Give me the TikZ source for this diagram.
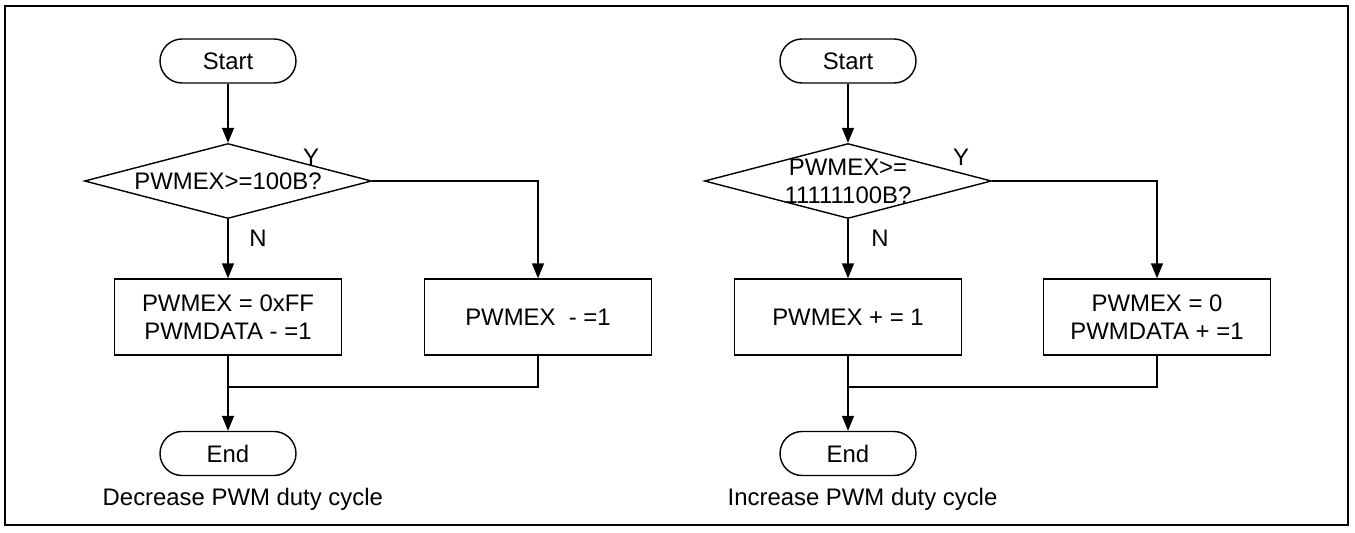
\documentclass[tikz,border=0pt]{standalone}
\usepackage{fontspec}
\setmainfont{Liberation Sans}
\usetikzlibrary{shapes.geometric}
\usetikzlibrary{arrows.meta}
\tikzset{%
    term/.style={shape=rectangle,draw,line width=0.8pt,rounded corners=0.44cm,minimum width=2.72cm,minimum height=0.88cm,inner sep=0pt},
    decision/.style={shape=diamond,draw,line width=0.8pt,minimum width=5.74cm,minimum height=1.5cm,inner sep=0pt},
    process/.style={shape=rectangle,draw,line width=0.8pt,minimum width=4.54cm,minimum height=1.52cm,inner sep=0pt,align=center},
    flow/.style={line width=0.8pt,-{Triangle[length=0.3cm,width=0.24cm]}},
    joint/.style={line width=0.8pt},
    every node/.style={font=\fontsize{13.6}{16}\selectfont},
}
\begin{document}
\begin{tikzpicture}
        \useasboundingbox (0,0) rectangle (27.1,10.64);
        \draw[line width=1.2pt] (0.1,0.14) rectangle (26.96,10.52);

        % decrease
        \node [term] (start1) at (4.56,9.42) {Start};
        \node [decision] (dec1) at (4.56,7.02) {};
        \node (dec1text) at (dec1) {PWMEX>=100B?};
        \node [process] (box1) at (4.56,4.30) {PWMEX = 0xFF\\PWMDATA - =1};
        \node [process] (box2) at (10.76,4.30) {PWMEX\ \ - =1};
        \node [term] (end1) at (4.56,1.57) {End};
        \node [anchor=west] (cap1) at (1.93,0.66) {Decrease PWM duty cycle};
        \node (yes1) at (6.22,7.5) {Y};
        \node (no1) at (5.16,5.88) {N};
        \coordinate (merge1) at (4.56,2.90);
        \draw [flow] (start1) -- (dec1);
        \draw [flow] (dec1) -- (box1);
        \draw [flow] (dec1.east) -| (box2.north);
        \draw [joint] (box2.south) |- (merge1);
        \draw [flow] (box1) -- (end1);

        % increase
        \node [term] (start2) at (16.96,9.42) {Start};
        \node [decision] (dec2) at (16.96,7.02) {};
        \node [align=center] (dec2text) at (dec2) {PWMEX>=\\11111100B?};
        \node [process] (box3) at (16.96,4.30) {PWMEX + = 1};
        \node [process] (box4) at (23.14,4.30) {PWMEX = 0\\PWMDATA + =1};
        \node [term] (end2) at (16.96,1.57) {End};
        \node [anchor=west] (cap2) at (14.43,0.66) {Increase PWM duty cycle};
        \node (yes2) at (19.22,7.5) {Y};
        \node (no2) at (17.6,5.88) {N};
        \coordinate (merge2) at (16.96,2.90);
        \draw [flow] (start2) -- (dec2);
        \draw [flow] (dec2) -- (box3);
        \draw [flow] (dec2.east) -| (box4.north);
        \draw [joint] (box4.south) |- (merge2);
        \draw [flow] (box3) -- (end2);
    \end{tikzpicture}
\end{document}
